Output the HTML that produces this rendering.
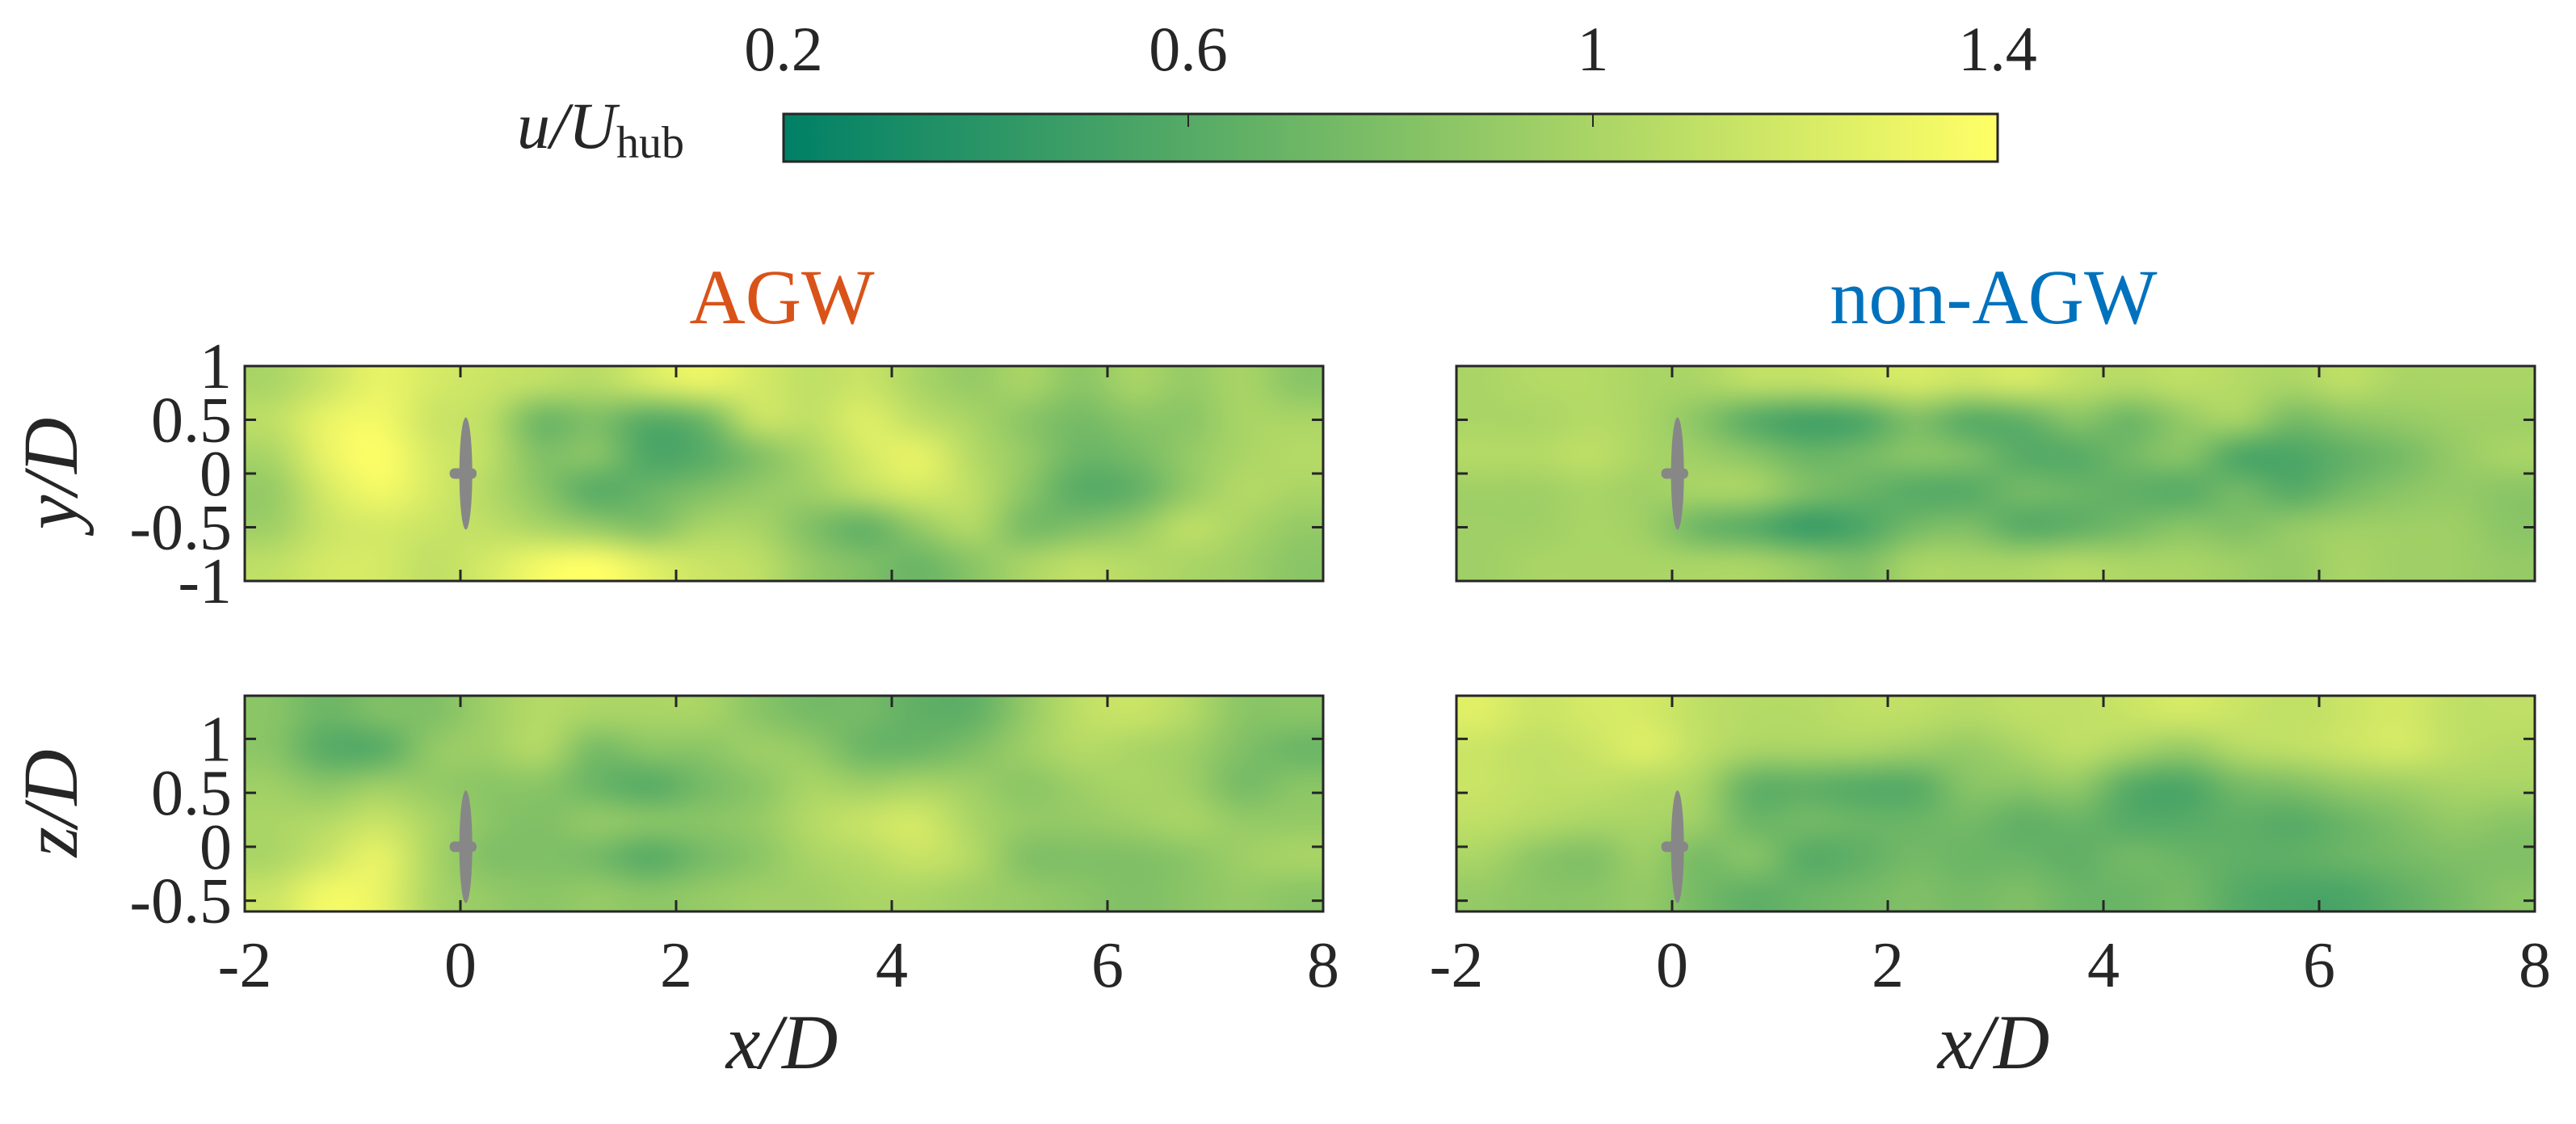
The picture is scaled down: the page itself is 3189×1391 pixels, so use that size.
<!DOCTYPE html>
<html><head><meta charset="utf-8"><style>
html,body{margin:0;padding:0;background:#fff;width:3189px;height:1391px;overflow:hidden;position:relative}
canvas{position:absolute}
svg{position:absolute;left:0;top:0}
text{font-family:"Liberation Serif",serif;fill:#262626}
</style></head><body>
<canvas id="cA"></canvas>
<canvas id="cB"></canvas>
<canvas id="cC"></canvas>
<canvas id="cD"></canvas>
<svg id="svg" width="3189" height="1391" xmlns="http://www.w3.org/2000/svg">
<defs><linearGradient id="summer" x1="0" x2="1" y1="0" y2="0"><stop offset="0" stop-color="#008066"/><stop offset="1" stop-color="#ffff66"/></linearGradient></defs>
<g>
<rect x="970" y="141" width="1503" height="59" fill="url(#summer)" stroke="#262626" stroke-width="3"/>
<line x1="1471" y1="142" x2="1471" y2="157" stroke="#262626" stroke-width="2"/>
<line x1="1972" y1="142" x2="1972" y2="157" stroke="#262626" stroke-width="2"/>
<text x="970" y="87" font-size="78" text-anchor="middle">0.2</text>
<text x="1471" y="87" font-size="78" text-anchor="middle">0.6</text>
<text x="1972" y="87" font-size="78" text-anchor="middle">1</text>
<text x="2473" y="87" font-size="78" text-anchor="middle">1.4</text>
<text x="640" y="183" font-size="82" font-style="italic">u/U<tspan font-style="normal" font-size="56" dy="12">hub</tspan></text>
</g>
<text x="968" y="400" font-size="96" text-anchor="middle" style="fill:#d95319">AGW</text>
<text x="2468" y="400" font-size="96" text-anchor="middle" style="fill:#0072bd">non-AGW</text>
<text x="968" y="1322" font-size="96" font-style="italic" text-anchor="middle">x/D</text>
<text x="2468" y="1322" font-size="96" font-style="italic" text-anchor="middle">x/D</text>
<text transform="translate(95,586) rotate(-90)" font-size="96" font-style="italic" text-anchor="middle">y/D</text>
<text transform="translate(95,994) rotate(-90)" font-size="96" font-style="italic" text-anchor="middle">z/D</text>
<g id="axes"></g>
</svg>
<script>
const xTicks=[-2,0,2,4,6,8];
const yTicksTop=[-1,-0.5,0,0.5,1];
const yTicksBot=[-0.5,0,0.5,1];
const yTickLabelsTop=["-1","-0.5","0","0.5","1"];
const yTickLabelsBot=["-0.5","0","0.5","1"];
const xTickLabels=["-2","0","2","4","6","8"];
const cmin=0.2, cmax=1.4;
const fieldA=[
[1.0,1.15,1.3,1.2,1.15,1.1,1.05,1.2,1.3,1.2,1.1,1.15,1.0,0.9,1.0,0.85,1.0,0.9,1.0,0.85],
[1.1,1.3,1.35,1.15,1.1,0.7,0.8,0.6,0.7,1.15,1.1,1.25,1.1,1.0,0.85,0.75,0.85,0.85,1.0,1.0],
[1.0,1.3,1.4,1.2,1.1,0.8,0.85,0.55,0.6,0.8,1.0,1.2,1.3,1.05,0.9,0.7,0.75,0.9,1.0,1.05],
[0.9,1.2,1.35,1.2,1.05,0.85,0.6,0.7,0.8,0.9,0.95,1.1,1.2,1.1,0.85,0.6,0.65,0.9,1.05,1.0],
[0.95,1.15,1.2,1.15,1.1,1.0,0.9,0.8,1.0,1.0,0.8,0.65,0.9,1.05,0.75,0.8,0.9,1.1,1.0,0.9],
[1.1,1.2,1.2,1.1,1.2,1.35,1.4,1.25,1.15,1.1,0.9,0.8,0.7,0.85,1.0,1.1,1.05,1.0,0.95,0.85]];
const fieldB=[
[1.0,1.05,1.05,1.0,1.0,1.1,1.1,1.15,1.2,1.15,1.2,1.1,1.05,1.1,1.05,1.0,1.1,1.0,1.0,1.0],
[1.0,1.0,1.05,1.0,0.85,0.6,0.5,0.55,0.8,0.6,0.65,0.85,0.7,0.9,1.0,0.75,0.85,0.9,0.95,0.95],
[1.05,1.05,1.1,1.0,0.95,0.85,0.7,0.75,0.85,0.8,0.6,0.6,0.75,0.85,0.55,0.55,0.65,0.75,0.9,1.0],
[0.95,0.95,1.0,0.95,1.0,1.0,0.8,0.7,0.6,0.6,0.75,0.7,0.65,0.6,0.75,0.6,0.75,0.85,0.9,0.85],
[0.95,0.95,1.0,0.95,0.7,0.6,0.45,0.55,0.75,0.8,0.6,0.65,0.75,0.85,0.8,0.9,0.95,0.95,0.95,0.85],
[0.95,1.0,1.0,1.0,1.0,1.0,0.9,0.8,1.0,1.0,1.0,1.05,1.0,1.0,0.95,0.9,1.0,0.95,0.95,0.9]];
const fieldC=[
[0.85,0.7,0.8,0.8,0.95,1.05,1.0,1.0,1.0,0.85,0.75,0.75,0.65,0.65,0.9,1.1,1.15,1.05,0.85,0.85],
[0.85,0.6,0.6,0.9,0.95,1.05,0.75,0.85,0.85,0.95,0.9,0.7,0.7,0.8,0.95,1.05,1.0,0.95,0.8,0.7],
[0.95,0.85,0.95,0.9,0.85,0.85,0.7,0.6,0.75,0.85,1.0,0.95,1.0,0.95,0.85,0.95,1.0,0.95,0.75,0.85],
[1.0,1.05,1.15,1.0,0.85,0.8,0.9,0.85,0.85,0.9,1.05,1.15,1.2,1.0,0.9,0.9,0.95,1.0,0.9,0.9],
[1.0,1.15,1.3,1.0,0.8,0.8,0.75,0.6,0.75,0.85,1.0,1.05,1.15,1.05,0.8,0.8,0.8,0.85,0.95,1.0],
[1.15,1.35,1.3,1.0,0.9,0.85,0.9,0.85,0.9,0.95,0.95,1.0,1.0,0.95,0.9,0.85,0.8,0.85,0.9,0.85]];
const fieldD=[
[1.25,1.15,1.2,1.2,1.1,1.05,1.05,1.1,1.1,1.05,1.1,1.1,1.15,1.2,1.15,1.1,1.15,1.2,1.1,1.1],
[1.15,1.1,1.15,1.25,1.1,1.0,1.0,1.0,0.95,0.9,1.0,1.1,1.0,0.9,1.05,1.1,1.15,1.2,1.1,1.05],
[1.15,1.1,1.1,1.05,1.0,0.65,0.65,0.6,0.6,0.85,0.85,0.9,0.6,0.55,0.75,0.8,0.9,0.95,1.0,1.0],
[1.1,1.05,1.0,1.0,0.95,0.7,0.75,0.7,0.7,0.75,0.65,0.7,0.6,0.6,0.65,0.6,0.7,0.8,0.9,0.85],
[1.0,0.85,0.8,0.95,0.75,0.85,0.6,0.65,0.75,0.7,0.7,0.65,0.75,0.7,0.65,0.65,0.7,0.75,0.8,0.8],
[0.9,0.85,0.85,0.9,0.75,0.65,0.7,0.75,0.8,0.75,0.8,0.7,0.7,0.75,0.6,0.55,0.55,0.65,0.75,0.85]];

const NS="http://www.w3.org/2000/svg";
const axes=document.getElementById('axes');
const panels=[
 {id:'cA',field:fieldA,x0:303,y0:453,w:1335,h:266,ymin:-1,ymax:1,yt:yTicksTop,yl:yTickLabelsTop,left:true,bottom:false,name:'agw-top'},
 {id:'cB',field:fieldB,x0:1803,y0:453,w:1335,h:266,ymin:-1,ymax:1,yt:yTicksTop,yl:yTickLabelsTop,left:false,bottom:false,name:'nonagw-top'},
 {id:'cC',field:fieldC,x0:303,y0:861,w:1335,h:267,ymin:-0.6,ymax:1.4,yt:yTicksBot,yl:yTickLabelsBot,left:true,bottom:true,name:'agw-side'},
 {id:'cD',field:fieldD,x0:1803,y0:861,w:1335,h:267,ymin:-0.6,ymax:1.4,yt:yTicksBot,yl:yTickLabelsBot,left:false,bottom:true,name:'nonagw-side'}];
function summer(v){let t=(v-cmin)/(cmax-cmin);t=Math.max(0,Math.min(1,t));return [Math.round(255*t),Math.round(255*(0.5+t/2)),102];}
function mk(tag,attrs){const e=document.createElementNS(NS,tag);for(const k in attrs)e.setAttribute(k,attrs[k]);axes.appendChild(e);return e;}
panels.forEach(p=>{
 const rows=p.field.length, cols=p.field[0].length;
 const small=document.createElement('canvas');small.width=cols;small.height=rows;
 const sc=small.getContext('2d');const img=sc.createImageData(cols,rows);
 for(let r=0;r<rows;r++)for(let c=0;c<cols;c++){const col=summer(p.field[r][c]);const i=4*(r*cols+c);img.data[i]=col[0];img.data[i+1]=col[1];img.data[i+2]=col[2];img.data[i+3]=255;}
 sc.putImageData(img,0,0);
 const cv=document.getElementById(p.id);cv.width=p.w;cv.height=p.h;
 cv.style.left=p.x0+'px';cv.style.top=p.y0+'px';
 const ctx=cv.getContext('2d');ctx.imageSmoothingEnabled=true;ctx.imageSmoothingQuality='high';
 ctx.drawImage(small,0,0,p.w,p.h);
 const X=v=>p.x0+(v+2)/10*p.w;
 const Y=v=>p.y0+(p.ymax-v)/(p.ymax-p.ymin)*p.h;
 let e=mk('ellipse',{cx:X(0.05),cy:Y(0),rx:8,ry:(Y(-0.5)-Y(0.5))/2+3,fill:'#878787'});
 
 
 e=mk('rect',{x:X(-0.1),y:Y(0)-6.5,width:X(0.15)-X(-0.1),height:13,rx:6,fill:'#878787'});
 
 
 e=mk('rect',{x:p.x0,y:p.y0,width:p.w,height:p.h,fill:'none',stroke:'#262626','stroke-width':3});
 
 
 xTicks.forEach((t,i)=>{
  mk('line',{x1:X(t),x2:X(t),y1:p.y0,y2:p.y0+14,stroke:'#262626','stroke-width':3});
  mk('line',{x1:X(t),x2:X(t),y1:p.y0+p.h,y2:p.y0+p.h-14,stroke:'#262626','stroke-width':3});
  if(p.bottom){const tx=mk('text',{x:X(t),y:p.y0+p.h+93,'font-size':80,'text-anchor':'middle'});tx.textContent=xTickLabels[i];
   
   }
 });
 p.yt.forEach((t,i)=>{
  mk('line',{x1:p.x0,x2:p.x0+14,y1:Y(t),y2:Y(t),stroke:'#262626','stroke-width':3});
  mk('line',{x1:p.x0+p.w,x2:p.x0+p.w-14,y1:Y(t),y2:Y(t),stroke:'#262626','stroke-width':3});
  if(p.left){const tx=mk('text',{x:p.x0-16,y:Y(t)+27,'font-size':80,'text-anchor':'end'});tx.textContent=p.yl[i];
   
   }
 });
});
</script>
</body></html>
